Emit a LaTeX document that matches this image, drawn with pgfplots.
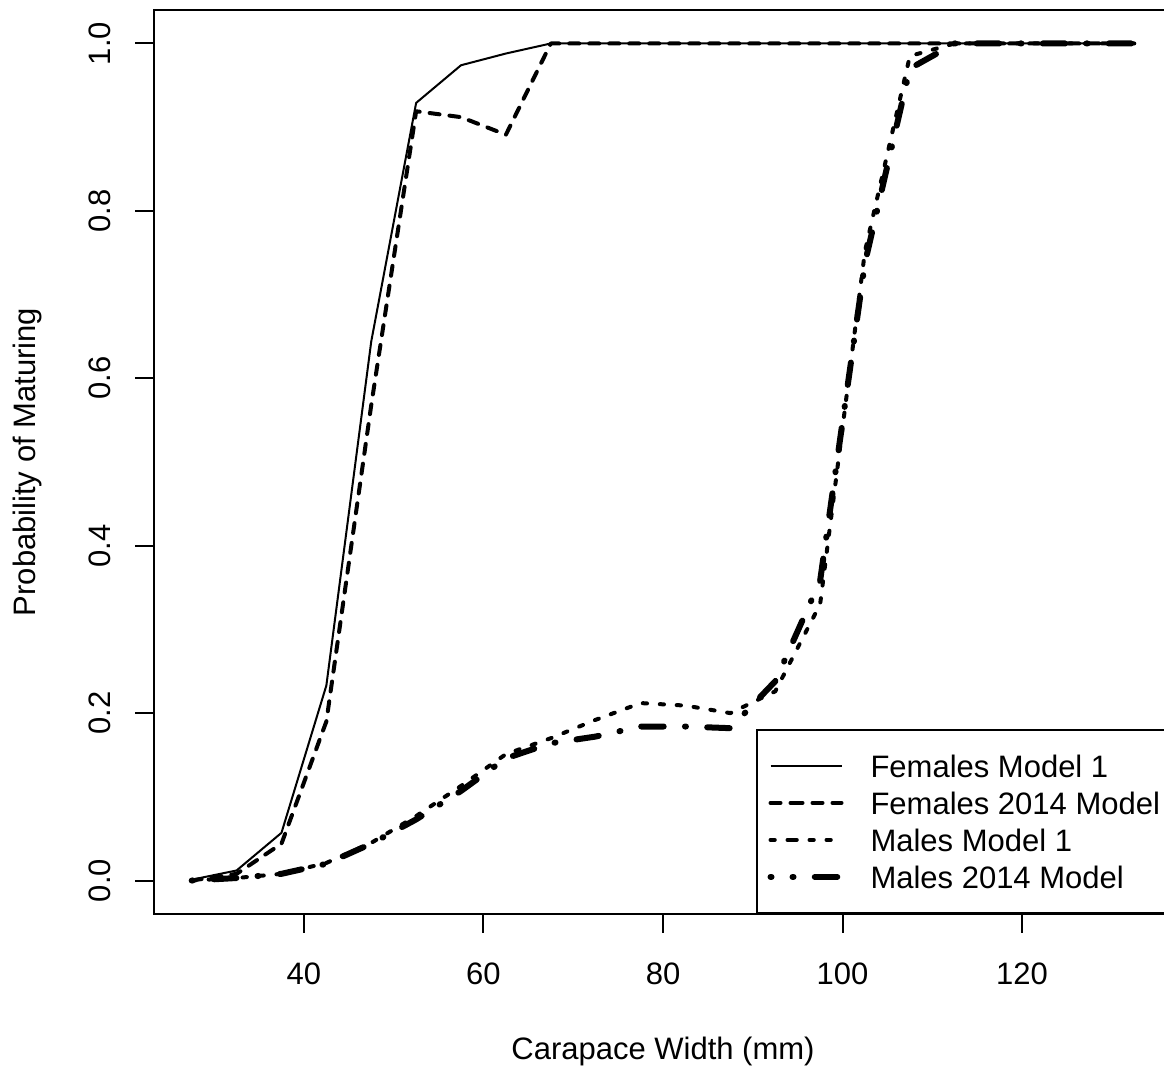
\documentclass[border=0pt]{standalone}
\usepackage{fontspec}
\setmainfont{Liberation Sans}
\usepackage{pgfplots}
\usepackage{pgfplotstable}
\pgfplotsset{compat=1.18}

\pgfplotstableread{
x     fm1   f14   mm1   m14
27.5  0.001 0.000 0.000 0.000
32.5  0.012 0.008 0.003 0.003
37.5  0.057 0.044 0.008 0.008
42.5  0.233 0.190 0.021 0.020
47.5  0.644 0.568 0.045 0.044
52.5  0.929 0.919 0.077 0.073
57.5  0.974 0.912 0.113 0.107
62.5  0.988 0.891 0.151 0.146
67.5  1.000 1.000 0.170 0.164
72.5  1.000 1.000 0.192 0.172
77.5  1.000 1.000 0.212 0.184
82.5  1.000 1.000 0.209 0.184
87.5  1.000 1.000 0.200 0.182
92.5  1.000 1.000 0.226 0.238
97.5  1.000 1.000 0.330 0.358
102.5 1.000 1.000 0.752 0.738
107.5 1.000 1.000 0.985 0.970
112.5 1.000 1.000 1.000 1.000
117.5 1.000 1.000 1.000 1.000
122.5 1.000 1.000 1.000 1.000
127.5 1.000 1.000 1.000 1.000
132.5 1.000 1.000 1.000 1.000
}\data

\begin{document}
\fontsize{12.4}{15}\selectfont
\begin{tikzpicture}
\begin{axis}[
  at={(61.6pt,60.8pt)}, anchor=south west,
  scale only axis, width=407.2pt, height=361.6pt,
  xmin=23.3, xmax=136.7, ymin=-0.04, ymax=1.04,
  xtick={40,60,80,100,120}, ytick={0,0.2,0.4,0.6,0.8,1.0},
  tick pos=left, tick align=inside, major tick length=-7.6pt,
  axis line style={line width=0.8pt},
  every tick/.style={black, line width=0.8pt},
  /pgf/number format/assume math mode=true,
  xticklabel style={anchor=center, inner sep=0pt, text height=8.9pt, text depth=0pt, yshift=-23.6pt},
  yticklabel style={/pgf/number format/fixed, /pgf/number format/fixed zerofill, /pgf/number format/precision=1,
     anchor=center, inner sep=0pt, text height=8.9pt, text depth=0pt, xshift=-22pt, rotate=90},
  every axis x label/.style={at={(axis description cs:0.5,0)}, anchor=center, inner sep=0pt, text height=8.9pt, text depth=0pt, yshift=-53.6pt},
  every axis y label/.style={at={(axis description cs:0,0.5)}, xshift=-52pt, rotate=90, anchor=center, inner sep=0pt, text height=8.9pt, text depth=0pt},
  xlabel={Carapace Width (mm)},
  ylabel={Probability of Maturing},
  legend image code/.code={\path (0pt,0pt) -- (8.8pt,0pt); \draw[#1] (8.8pt,0pt) -- (28.4pt,0pt);},
  legend cell align=left,
  legend style={at={(axis description cs:1,0)}, anchor=south east,
    draw=black, line width=0.8pt, fill=white,
    inner xsep=4.4pt, inner ysep=10pt,
    nodes={inner sep=0pt, text height=8.9pt, text depth=0pt, anchor=west},
    column sep=10.4pt, row sep=5.9pt},
]
\addplot[black, line width=0.8pt, line join=round] table[x=x,y=fm1]{\data};
\addplot[black, line width=1.6pt, line cap=round, line join=round, dash pattern=on 4pt off 4pt] table[x=x,y=f14]{\data};
\addplot[black, line width=1.6pt, line cap=round, line join=round, dash pattern=on 1.7pt off 5.1pt] table[x=x,y=mm1]{\data};
\addplot[black, line width=2.4pt, line cap=round, line join=round, dash pattern=on 0.4pt off 8.5pt on 9pt off 8.5pt] table[x=x,y=m14]{\data};
\legend{Females Model 1, Females 2014 Model, Males Model 1, Males 2014 Model}
\end{axis}
\pgfresetboundingbox
\path[use as bounding box] (0,0) rectangle (465.6pt,426.4pt);
\end{tikzpicture}
\end{document}
